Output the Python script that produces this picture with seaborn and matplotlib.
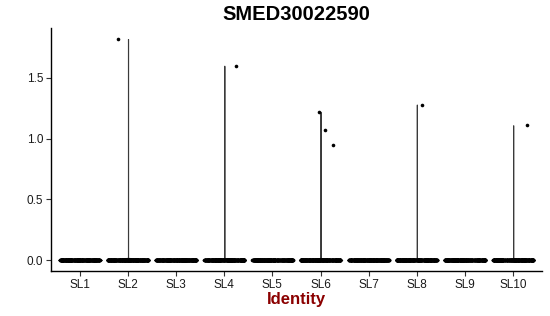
import numpy as np
import pandas as pd
import matplotlib
matplotlib.use("Agg")
import matplotlib.pyplot as plt
import seaborn as sns

# ---- data ----
groups = ["SL1", "SL2", "SL3", "SL4", "SL5", "SL6", "SL7", "SL8", "SL9", "SL10"]
zero_counts = [300, 300, 300, 300, 300, 300, 300, 300, 300, 300]
nonzero_values = {
    "SL1": [],
    "SL2": [1.82],
    "SL3": [],
    "SL4": [1.60],
    "SL5": [],
    "SL6": [1.22, 1.07, 0.95],
    "SL7": [],
    "SL8": [1.28],
    "SL9": [],
    "SL10": [1.11],
}
title = "SMED30022590"
x_label = "Identity"
y_ticks = [0.0, 0.5, 1.0, 1.5]
y_tick_labels = ["0.0", "0.5", "1.0", "1.5"]

rows = []
for g, nz in zip(groups, zero_counts):
    rows += [(g, 0.0)] * nz
    rows += [(g, v) for v in nonzero_values[g]]
df = pd.DataFrame(rows, columns=["ident", "expr"])
df["ident"] = pd.Categorical(df["ident"], categories=groups, ordered=True)

sns.set_theme(style="ticks")
plt.rcParams["font.family"] = ["Liberation Sans", "DejaVu Sans"]

fig = plt.figure(figsize=(5.5, 3.16), dpi=100)
ax = fig.add_axes([0.0927, 0.1424, 0.8928, 0.7686])

sns.violinplot(data=df, x="ident", y="expr", order=groups, ax=ax,
               color="white", linecolor="#3a3a3a", linewidth=0.8,
               density_norm="width", bw_adjust=0.05, cut=0, inner=None,
               width=0.9)
np.random.seed(3)
sns.stripplot(data=df, x="ident", y="expr", order=groups, ax=ax,
              color="black", size=2.6, linewidth=0, jitter=0.42,
              alpha=1.0)

ax.set_xlim(-0.6, 9.6)
ax.set_ylim(-0.09, 1.91)
ax.set_yticks(y_ticks)
ax.set_yticklabels(y_tick_labels)
ax.set_title(title, fontsize=14.5, fontweight="bold", color="black", pad=6)
ax.set_xlabel(x_label, fontsize=12, fontweight="bold", color="#8B0000", labelpad=1)
ax.set_ylabel("")
for s in ["top", "right"]:
    ax.spines[s].set_visible(False)
for s in ["left", "bottom"]:
    ax.spines[s].set_color("black")
    ax.spines[s].set_linewidth(1.0)
ax.tick_params(axis="both", length=3.5, width=0.8, color="#333333",
               labelsize=8.5, labelcolor="#1a1a1a", pad=2)

fig.savefig("out.png", dpi=100)
